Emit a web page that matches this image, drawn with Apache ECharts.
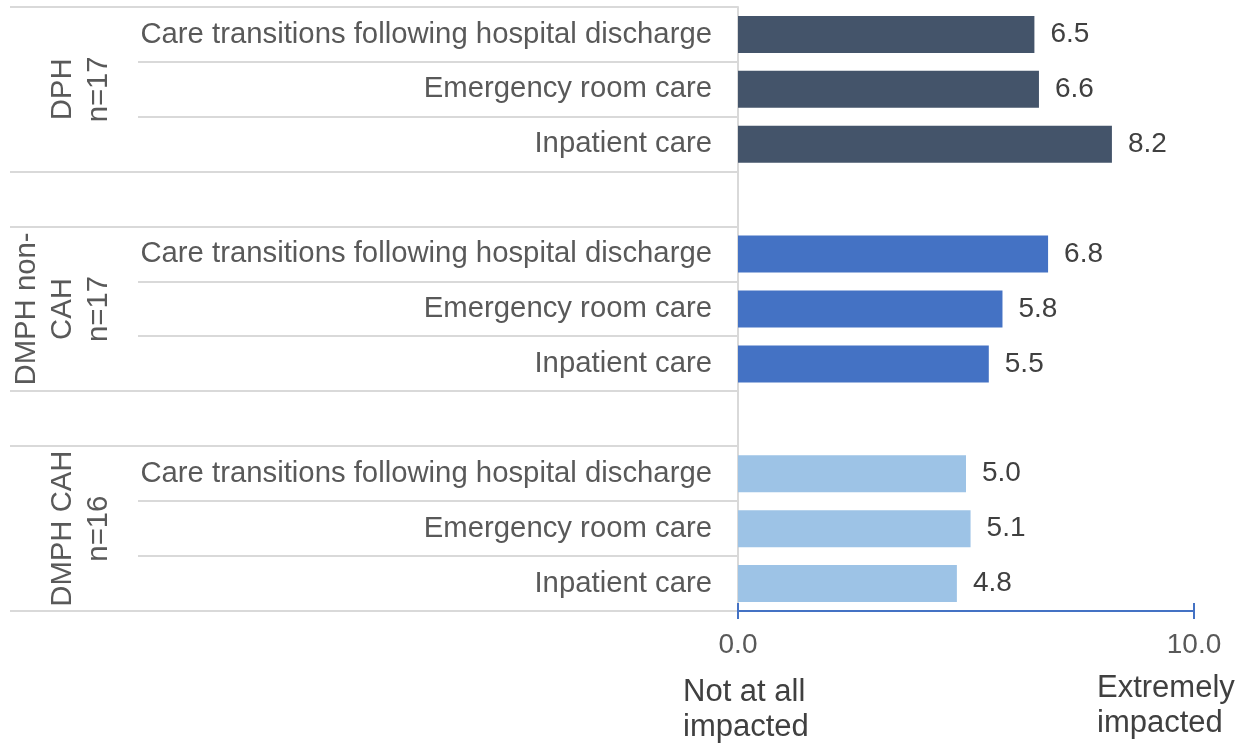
<!DOCTYPE html>
<html>
<head>
<meta charset="utf-8">
<script src="https://cdn.jsdelivr.net/npm/echarts@6/dist/echarts.min.js"></script>
<style>
html,body{margin:0;padding:0;background:#fff;}
#chart{width:1249px;height:744px;}
</style>
</head>
<body>
<div id="chart"></div>
<script>
// ---- data ----
const groupLabels = ['DPH\nn=17', 'DMPH non-\nCAH\nn=17', 'DMPH CAH\nn=16'];
const itemLabels = ['Care transitions following hospital discharge', 'Emergency room care', 'Inpatient care'];
const dphValues = [6.5, 6.6, 8.2];
const dmphNonCahValues = [6.8, 5.8, 5.5];
const dmphCahValues = [5.0, 5.1, 4.8];
const groupValues = [dphValues, dmphNonCahValues, dmphCahValues];
const groupColors = ['#44546A', '#4472C4', '#9DC3E6'];
const xMin = 0, xMax = 10, xInterval = 10;
const endLabels = ['Not at all\nimpacted', 'Extremely\nimpacted'];

// ---- build category axis (with spacer rows between groups) ----
const catKeys = [];
const catText = {};
const groupRanges = [];
groupLabels.forEach((g, gi) => {
  const start = catKeys.length;
  itemLabels.forEach((it, ii) => {
    const k = 'g' + gi + '_' + ii;
    catKeys.push(k); catText[k] = it;
  });
  groupRanges.push([start, catKeys.length - 1]);
  if (gi < groupLabels.length - 1) {
    const k = 'sp' + gi;
    catKeys.push(k); catText[k] = '';
  }
});

const series = groupValues.map((vals, gi) => {
  const data = catKeys.map(() => '-');
  vals.forEach((v, ii) => { data[groupRanges[gi][0] + ii] = v; });
  return {
    type: 'bar',
    data: data,
    barWidth: 37,
    barGap: '-100%',
    itemStyle: { color: groupColors[gi] },
    label: {
      show: true, position: 'right', distance: 16,
      fontFamily: 'Liberation Sans', fontSize: 28, color: '#404040',
      formatter: p => Number(p.value).toFixed(1)
    },
    silent: true
  };
});

const FONT = 'Liberation Sans';
const chart = echarts.init(document.getElementById('chart'), null, { renderer: 'canvas' });
const option = {
  animation: false,
  backgroundColor: '#ffffff',
  grid: { left: 738, right: 55, top: 7, bottom: 133, containLabel: false },
  xAxis: [{
    type: 'value', min: xMin, max: xMax, interval: xInterval, position: 'bottom',
    axisLine: { show: true, lineStyle: { color: '#4472C4', width: 2 } },
    axisTick: { show: true, length: 8, lineStyle: { color: '#4472C4', width: 2 } },
    axisLabel: { fontFamily: FONT, fontSize: 28, color: '#595959', margin: 20, formatter: v => v.toFixed(1) },
    splitLine: { show: false }
  }, {
    type: 'value', min: xMin, max: xMax, interval: xInterval, position: 'bottom',
    axisLine: { show: false },
    axisTick: { show: true, inside: true, length: 8, lineStyle: { color: '#4472C4', width: 2 } },
    axisLabel: { show: false },
    splitLine: { show: false }
  }],
  yAxis: {
    type: 'category', data: catKeys, inverse: true,
    axisLine: { show: true, lineStyle: { color: '#D9D9D9', width: 2 } },
    axisTick: { show: false },
    axisLabel: { fontFamily: FONT, fontSize: 29.3, color: '#595959', margin: 26, formatter: v => catText[v] }
  },
  series: series
};
chart.setOption(option);

// ---- separator lines & group labels (positions from the axis scale) ----
const yPix = i => chart.convertToPixel({ yAxisIndex: 0 }, i);
const slot = yPix(1) - yPix(0);
const gridLeft = 738;
const graphics = [];
const lineStyle = { stroke: '#D9D9D9', lineWidth: 2 };
const fullBounds = new Set();
groupRanges.forEach(r => { fullBounds.add(r[0]); fullBounds.add(r[1] + 1); });
for (let b = 0; b <= catKeys.length; b++) {
  const y = Math.round(yPix(0) + (b - 0.5) * slot);
  const isFull = fullBounds.has(b);
  const isItem = (catKeys[b] && catKeys[b].startsWith('g')) || (catKeys[b - 1] && catKeys[b - 1].startsWith('g'));
  if (!isFull && !isItem) continue;
  graphics.push({
    type: 'line', silent: true, z: 0,
    shape: { x1: isFull ? 10 : 138, y1: y, x2: gridLeft, y2: y },
    style: lineStyle
  });
}
groupRanges.forEach((r, gi) => {
  const yc = (yPix(r[0]) + yPix(r[1])) / 2;
  const nLines = groupLabels[gi].split('\n').length;
  const xc = 99 - (nLines - 1) * 36 / 2;
  graphics.push({
    type: 'text', silent: true,
    x: xc, y: yc, rotation: Math.PI / 2,
    style: {
      text: groupLabels[gi], fontFamily: FONT, fontSize: 29.3, lineHeight: 36,
      fill: '#595959', align: 'center', verticalAlign: 'middle'
    }
  });
});
const x0 = chart.convertToPixel({ xAxisIndex: 0 }, xMin);
const x1 = chart.convertToPixel({ xAxisIndex: 0 }, xMax);
graphics.push({
  type: 'text', silent: true, x: x0 - 55, y: 675,
  style: { text: endLabels[0], fontFamily: FONT, fontSize: 31, lineHeight: 35, fill: '#404040', align: 'left', verticalAlign: 'top' }
});
graphics.push({
  type: 'text', silent: true, x: x1 - 97, y: 671,
  style: { text: endLabels[1], fontFamily: FONT, fontSize: 31, lineHeight: 35, fill: '#404040', align: 'left', verticalAlign: 'top' }
});
chart.setOption({ graphic: graphics });
</script>
</body>
</html>
